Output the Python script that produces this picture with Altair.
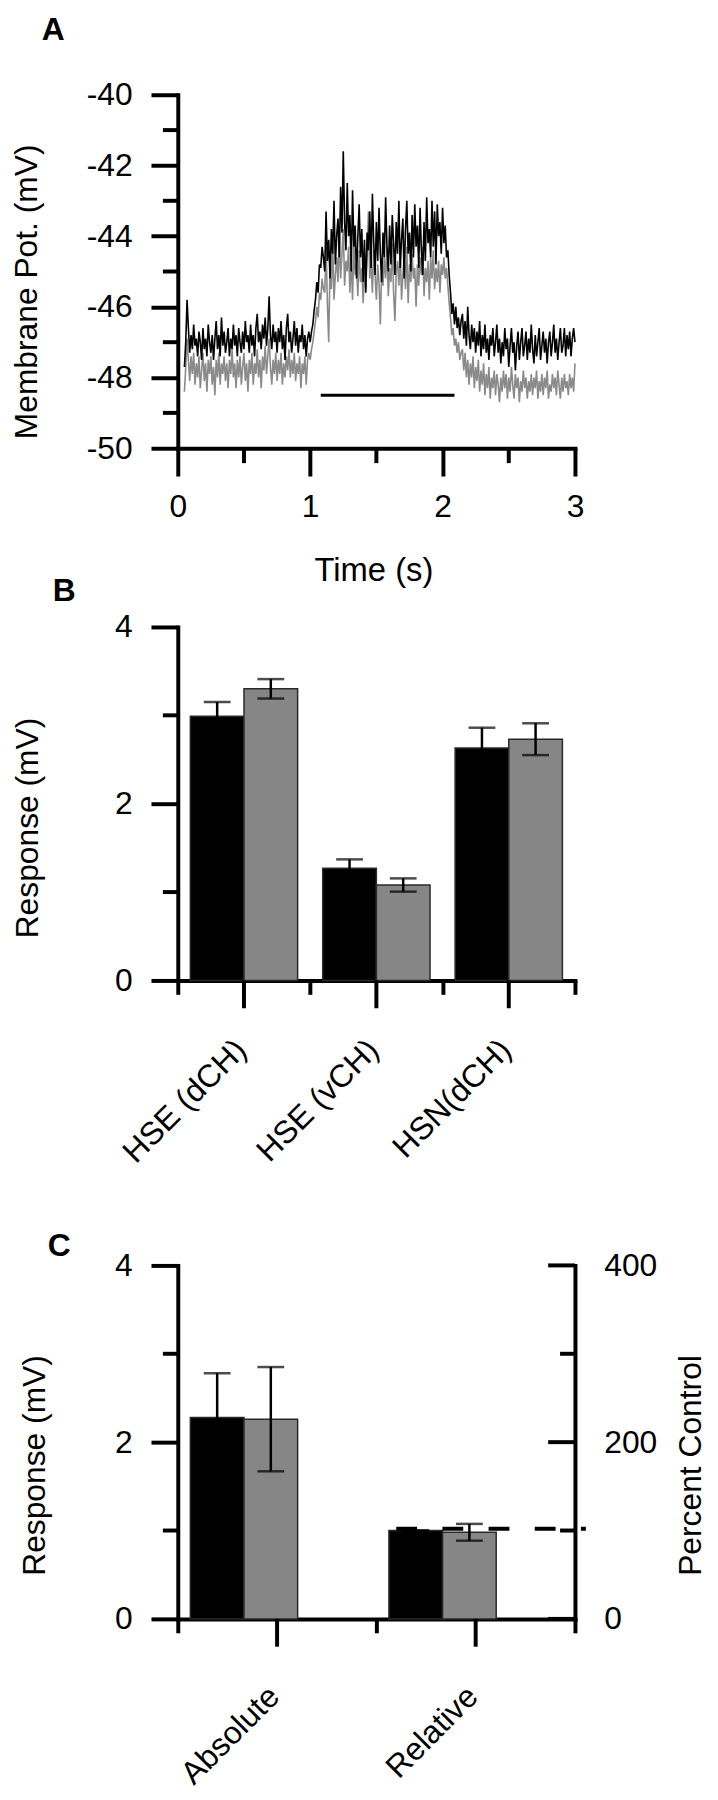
import altair as alt
import pandas as pd

FONT = "Liberation Sans"
W, H = 400, 356

# ---------------- Panel A: membrane potential traces (sampled every 10 ms from 0.05 s) ----------------
trace_start_s = 0.05
trace_step_s = 0.01
black_trace_mv = [
    # baseline
    -47.7, -47.0, -45.8, -46.6, -47.3, -46.8, -47.2, -46.5, -47.1, -46.9,
    -47.4, -46.7, -47.0, -47.5, -46.6, -47.2, -46.9, -47.4, -46.5, -47.0,
    -47.3, -46.8, -47.5, -46.9, -46.4, -47.2, -46.8, -47.4, -46.3, -47.1,
    -46.7, -47.3, -47.0, -46.6, -47.4, -46.9, -47.2, -46.5, -47.1, -46.8,
    -47.4, -46.6, -47.0, -47.3, -46.7, -47.2, -46.4, -47.0, -46.8, -47.3,
    -46.5, -47.1, -46.8, -47.4, -46.6, -46.2, -47.0, -46.7, -47.2, -46.5,
    -46.9, -46.3, -47.1, -46.6, -45.7, -46.8, -47.2, -46.5, -47.0, -46.7,
    -47.3, -46.6, -47.0, -46.4, -47.2, -46.8, -47.5, -46.6, -46.2, -47.0,
    -46.7, -47.3, -46.9, -46.4, -47.1, -46.6, -47.3, -46.8, -47.0, -46.5,
    -47.2, -46.8, -47.4, -46.9, -46.7,
    # rise
    -47.0, -46.7, -46.5, -46.1, -45.8, -45.3, -45.6, -44.8, -44.9, -44.3, -44.6,
    # plateau
    -45.0, -43.3, -44.7, -44.1, -45.2, -43.8, -44.5, -43.0, -44.8, -44.0,
    -43.5, -44.6, -42.6, -43.9, -41.6, -43.6, -44.4, -42.5, -44.0, -43.4,
    -45.0, -42.7, -44.3, -43.7, -45.2, -44.0, -43.1, -44.6, -43.8, -45.3,
    -44.1, -45.6, -43.9, -44.4, -43.3, -44.9, -42.8, -44.2, -45.1, -43.6,
    -44.7, -43.2, -44.5, -45.3, -43.9, -44.6, -42.9, -44.3, -45.0, -43.7,
    -44.8, -43.4, -44.2, -45.1, -43.6, -44.5, -43.0, -44.9, -44.1, -43.5,
    -45.2, -43.8, -43.0, -44.5, -43.9, -45.0, -43.4, -44.6, -43.1, -44.3,
    -43.7, -44.9, -43.2, -44.4, -45.1, -43.6, -44.7, -42.9, -44.2, -43.8,
    -44.6, -43.0, -44.3, -43.3, -44.8, -43.1, -44.0, -43.6, -44.5, -43.2,
    -44.2, -43.7, -44.6,
    # fall
    -44.4, -45.1, -45.6, -46.2, -45.9, -46.5, -46.0, -46.6, -46.3, -46.8, -46.4,
    # after stimulus
    -46.2, -46.9, -46.4, -47.1, -46.0, -46.8, -47.2, -46.5, -47.0, -46.6,
    -47.3, -46.7, -47.1, -46.4, -47.4, -46.8, -47.2, -46.5, -47.3, -46.9,
    -47.5, -46.8, -47.1, -46.6, -47.4, -47.0, -46.5, -47.3, -46.9, -47.6,
    -47.0, -47.4, -46.6, -47.2, -46.9, -47.7, -47.1, -46.6, -47.3, -47.0,
    -47.8, -47.1, -46.7, -47.5, -47.0, -46.6, -47.4, -47.1, -46.7, -47.5,
    -46.9, -47.3, -46.5, -47.2, -47.6, -46.8, -47.4, -47.0, -46.6, -47.5,
    -47.1, -46.7, -47.3, -46.9, -47.6, -47.0, -46.7, -47.4, -47.0, -46.5,
    -47.3, -46.9, -47.5, -47.0, -46.6, -47.3, -47.1, -46.6, -47.4, -46.8,
    -47.2, -46.7, -47.4, -46.9, -46.6, -47.0,
]
gray_trace_mv = [
    # baseline
    -48.4, -47.7, -46.9, -47.5, -48.1, -47.4, -47.9, -47.3, -48.2, -47.6,
    -48.0, -47.4, -48.3, -47.8, -47.3, -48.1, -47.6, -48.4, -47.5, -47.9,
    -47.4, -48.2, -47.7, -48.5, -47.5, -48.0, -47.3, -48.2, -47.6, -47.9,
    -47.4, -48.1, -47.6, -48.3, -47.5, -47.9, -47.2, -48.0, -47.6, -48.3,
    -47.5, -48.0, -47.4, -48.2, -47.7, -47.3, -48.1, -47.6, -48.4, -47.5,
    -47.9, -47.3, -48.2, -47.6, -47.9, -47.2, -48.0, -47.5, -48.3, -47.4,
    -47.8, -47.1, -47.9, -47.4, -46.9, -47.7, -48.2, -47.5, -47.9, -47.3,
    -48.1, -47.5, -47.9, -47.3, -48.2, -47.6, -48.0, -47.4, -47.8, -47.2,
    -48.0, -47.5, -47.9, -47.3, -48.1, -47.6, -47.9, -47.4, -48.3, -47.6,
    -47.9, -47.4, -48.2, -47.5, -47.3,
    # rise
    -47.5, -47.2, -47.0, -46.7, -46.4, -46.0, -46.3, -45.6, -45.8, -45.2, -45.5,
    # plateau
    -45.6, -44.3, -45.9, -47.0, -44.8, -45.5, -44.2, -45.8, -45.1, -44.6,
    -45.3, -44.0, -45.2, -44.5, -43.8, -45.4, -44.7, -45.0, -44.3, -45.6,
    -44.6, -45.8, -44.2, -45.1, -44.8, -45.7, -44.4, -45.3, -44.9, -45.9,
    -45.0, -45.5, -44.6, -43.3, -45.2, -44.7, -45.6, -44.4, -45.1, -45.8,
    -44.8, -45.3, -46.5, -44.9, -45.4, -44.6, -45.2, -44.3, -45.7, -44.9,
    -45.3, -44.2, -45.6, -46.4, -45.0, -44.7, -45.4, -44.4, -45.8, -45.1,
    -44.6, -45.5, -44.3, -45.9, -44.8, -45.3, -44.5, -45.2, -44.9, -46.0,
    -44.8, -45.4, -44.6, -45.1, -44.3, -45.7, -44.9, -45.3, -44.7, -45.8,
    -44.6, -45.2, -44.4, -45.5, -44.9, -45.3, -44.7, -45.6, -44.8, -45.1,
    -44.6, -45.2, -44.9,
    # fall
    -45.4, -45.9, -46.3, -46.8, -46.6, -47.1, -46.9, -47.3, -47.0, -47.5, -47.3,
    # after stimulus
    -47.2, -47.8, -47.3, -48.0, -47.5, -48.2, -47.6, -48.0, -47.4, -48.3,
    -47.7, -48.1, -47.5, -48.4, -47.8, -48.2, -47.6, -48.5, -47.9, -48.3,
    -47.7, -48.6, -48.0, -48.3, -47.8, -48.5, -47.9, -48.2, -48.7, -48.0,
    -48.4, -47.8, -48.3, -47.9, -48.6, -48.0, -48.4, -47.7, -48.2, -48.6,
    -47.9, -48.3, -48.0, -48.7, -48.1, -48.4, -47.8, -48.3, -48.0, -48.6,
    -48.1, -48.4, -47.9, -48.5, -48.0, -48.3, -47.8, -48.6, -48.1, -48.4,
    -47.9, -48.5, -48.0, -48.3, -47.8, -48.6, -48.2, -48.4, -47.9, -48.3,
    -48.0, -48.5, -47.8, -48.2, -48.6, -48.0, -48.4, -47.9, -48.3, -48.1,
    -48.5, -47.9, -48.3, -48.0, -48.4, -47.6,
]
stim_start_s, stim_end_s, stim_level_mv = 1.08, 2.09, -48.5
a_y_major = [-50, -48, -46, -44, -42, -40]
a_y_minor = [-49, -47, -45, -43, -41]
a_x_major = [0, 1, 2, 3]
a_x_minor = [0.5, 1.5, 2.5]

# ---------------- Panel B ----------------
b_groups = ["HSE (dCH)", "HSE (vCH)", "HSN(dCH)"]
b_black_mean = [2.99, 1.27, 2.63]
b_black_err = [0.16, 0.10, 0.23]
b_gray_mean = [3.30, 1.08, 2.73]
b_gray_err = [0.11, 0.075, 0.18]

# ---------------- Panel C ----------------
c_groups = ["Absolute", "Relative"]
c_black_mean = [2.28, 1.00]
c_black_err = [0.50, 0.0]
c_gray_mean = [2.26, 0.98]
c_gray_err = [0.59, 0.095]
c_ref_level = [1.02]

resp_major = [0, 2, 4]
resp_minor = [1, 3]
pct_major = [0, 200, 400]
pct_minor = [100, 300]

series = ["control", "test"]
color_scale = alt.Scale(domain=series, range=["#000000", "#868686"])


def trace_df(values):
    return pd.DataFrame({
        "t": [round(trace_start_s + trace_step_s * i, 3) for i in range(len(values))],
        "mv": values,
    })


def letter(txt, dx, offset):
    return alt.TitleParams(txt, anchor="start", frame="group", dx=dx, offset=offset,
                           baseline="alphabetic", fontSize=32, fontWeight="bold",
                           font=FONT, color="black")


# ---- Panel A ----
xs_a = alt.Scale(domain=[0, 3], nice=False, zero=False)
ys_a = alt.Scale(domain=[-50, -40], nice=False, zero=False)
ax_a_x = alt.Axis(values=a_x_major, tickSize=28, labelPadding=16,
                  labelExpr="'' + datum.value", title="Time (s)", titleFontSize=33,
                  titleX=197, titleY=133, titleBaseline="alphabetic", titleAlign="center")
ax_a_y = alt.Axis(values=a_y_major, tickSize=27, labelPadding=19,
                  labelExpr="'' + datum.value", title="Membrane Pot. (mV)",
                  titleAngle=270, titleX=-152, titleY=198, titleBaseline="middle",
                  titleAlign="center")

gray_line = alt.Chart(trace_df(gray_trace_mv)).mark_line(color="#8a8a8a", strokeWidth=1.6).encode(
    x=alt.X("t:Q", scale=xs_a, axis=ax_a_x),
    y=alt.Y("mv:Q", scale=ys_a, axis=ax_a_y),
)
black_line = alt.Chart(trace_df(black_trace_mv)).mark_line(color="#000000", strokeWidth=1.6).encode(
    x=alt.X("t:Q", scale=xs_a, axis=ax_a_x),
    y=alt.Y("mv:Q", scale=ys_a, axis=ax_a_y),
)
stim = alt.Chart(pd.DataFrame({"t": [stim_start_s], "t1": [stim_end_s], "mv": [stim_level_mv]})).mark_rule(
    color="black", strokeWidth=3).encode(
    x=alt.X("t:Q", scale=xs_a, axis=ax_a_x), x2="t1:Q",
    y=alt.Y("mv:Q", scale=ys_a, axis=ax_a_y),
)
a_minor_y = alt.Chart(pd.DataFrame({"mv": a_y_minor})).mark_rule(color="black", strokeWidth=4).encode(
    y=alt.Y("mv:Q", scale=ys_a, axis=ax_a_y), x=alt.value(-15), x2=alt.value(0))
a_minor_x = alt.Chart(pd.DataFrame({"t": a_x_minor})).mark_rule(color="black", strokeWidth=4).encode(
    x=alt.X("t:Q", scale=xs_a, axis=ax_a_x), y=alt.value(H), y2=alt.value(H + 15))

panel_a = alt.layer(gray_line, black_line, stim, a_minor_y, a_minor_x).properties(
    width=W, height=H, title=letter("A", -137, 7))


# ---- bar panel helpers ----
def bar_df(groups, bm, be, gm, ge):
    rows = []
    for g, m1, e1, m2, e2 in zip(groups, bm, be, gm, ge):
        rows.append({"g": g, "s": "control", "m": m1, "lo": m1 - e1, "hi": m1 + e1})
        rows.append({"g": g, "s": "test", "m": m2, "lo": m2 - e2, "hi": m2 + e2})
    return pd.DataFrame(rows)


def bar_layers(df, groups, label_pad, title_x, title_y):
    xsc = alt.Scale(paddingInner=0, paddingOuter=0)
    osc = alt.Scale(paddingInner=0, paddingOuter=0.234)
    ysc = alt.Scale(domain=[0, 4], nice=False, zero=True)
    x_axis = alt.Axis(title=None, tickBand="extent", tickSize=14, labelAngle=315,
                      labelAlign="right", labelBaseline="top", labelPadding=label_pad,
                      labelOffset=-14)
    y_axis = alt.Axis(values=resp_major, tickSize=27, labelPadding=19, title="Response (mV)",
                      titleAngle=270, titleX=title_x, titleY=title_y, titleBaseline="middle",
                      titleAlign="center")
    xo = alt.XOffset("s:N", sort=series, scale=osc)
    xe = alt.X("g:N", sort=groups, scale=xsc, axis=x_axis)
    bars = alt.Chart(df).mark_bar(stroke="#2a2a2a", strokeWidth=1.5).encode(
        x=xe, xOffset=xo,
        y=alt.Y("m:Q", scale=ysc, axis=y_axis),
        color=alt.Color("s:N", scale=color_scale, legend=None),
    )
    err = alt.Chart(df).mark_rule(color="black", strokeWidth=2.5).encode(
        x=xe, xOffset=xo, y=alt.Y("lo:Q", scale=ysc, axis=y_axis), y2="hi:Q")
    cap_hi = alt.Chart(df).mark_tick(color="black", size=27, thickness=2.5).encode(
        x=xe, xOffset=xo, y=alt.Y("hi:Q", scale=ysc, axis=y_axis))
    cap_lo = alt.Chart(df).mark_tick(color="black", size=27, thickness=2.5).encode(
        x=xe, xOffset=xo, y=alt.Y("lo:Q", scale=ysc, axis=y_axis))
    center_ticks = alt.Chart(pd.DataFrame({"g": groups})).mark_rule(color="black", strokeWidth=4).encode(
        x=xe, y=alt.value(H), y2=alt.value(H + 28))
    minor = alt.Chart(pd.DataFrame({"v": resp_minor})).mark_rule(color="black", strokeWidth=4).encode(
        y=alt.Y("v:Q", scale=ysc, axis=y_axis), x=alt.value(-15), x2=alt.value(0))
    return [bars, err, cap_hi, cap_lo, center_ticks, minor], xsc, x_axis, ysc, y_axis


# ---- Panel B ----
df_b = bar_df(b_groups, b_black_mean, b_black_err, b_gray_mean, b_gray_err)
layers_b, _, _, _, _ = bar_layers(df_b, b_groups, 40, -151, 202)
panel_b = alt.layer(*layers_b).properties(width=W, height=H, title=letter("B", -126, -22))

# ---- Panel C ----
df_c = bar_df(c_groups, c_black_mean, c_black_err, c_gray_mean, c_gray_err)
layers_c, xsc_c, xax_c, ysc_c, yax_c = bar_layers(df_c, c_groups, 48, -144, 201)
dash = alt.Chart(pd.DataFrame({"g": [c_groups[1]], "v": c_ref_level})).mark_rule(
    color="black", strokeWidth=4, strokeDash=[21, 25.5], strokeDashOffset=26.5).encode(
    x=alt.X("g:N", sort=c_groups, scale=xsc_c, axis=xax_c, bandPosition=0),
    x2=alt.value(W + 11),
    y=alt.Y("v:Q", scale=ysc_c, axis=yax_c),
)
left_c = alt.layer(*layers_c, dash)

psc = alt.Scale(domain=[0, 400], nice=False, zero=True)
right_axis = alt.Axis(orient="right", values=pct_major, ticks=False, labelPadding=29,
                      labelAlign="left", title="Percent Control", titleAngle=270,
                      titleX=116, titleY=201, titleBaseline="middle", titleAlign="center")
r_major = alt.Chart(pd.DataFrame({"p": pct_major})).mark_rule(color="black", strokeWidth=4).encode(
    y=alt.Y("p:Q", scale=psc, axis=right_axis), x=alt.value(W - 27), x2=alt.value(W))
r_minor = alt.Chart(pd.DataFrame({"p": pct_minor})).mark_rule(color="black", strokeWidth=4).encode(
    y=alt.Y("p:Q", scale=psc, axis=right_axis), x=alt.value(W - 15), x2=alt.value(W))
right_c = alt.layer(r_major, r_minor)

panel_c = alt.layer(left_c, right_c).resolve_scale(y="independent").properties(
    width=W, height=H, title=letter("C", -131, -39))

bottom = alt.vconcat(panel_b, panel_c, spacing=287, bounds="flush")
chart = alt.vconcat(panel_a, bottom, spacing=180, bounds="flush").properties(
    padding={"left": 3, "top": 0, "right": 4, "bottom": 0}, background="white"
).configure_view(stroke=None).configure_axis(
    domainColor="black", domainWidth=4, domainCap="square",
    tickColor="black", tickWidth=4, tickCap="butt",
    labelColor="black", titleColor="black",
    labelFont=FONT, titleFont=FONT, labelFontSize=32, titleFontSize=32,
    titleFontWeight="normal", grid=False, labelFlush=False, labelOverlap=False,
    labelBound=False,
)

chart.save("out.html", embed_options={"renderer": "svg", "actions": False})
